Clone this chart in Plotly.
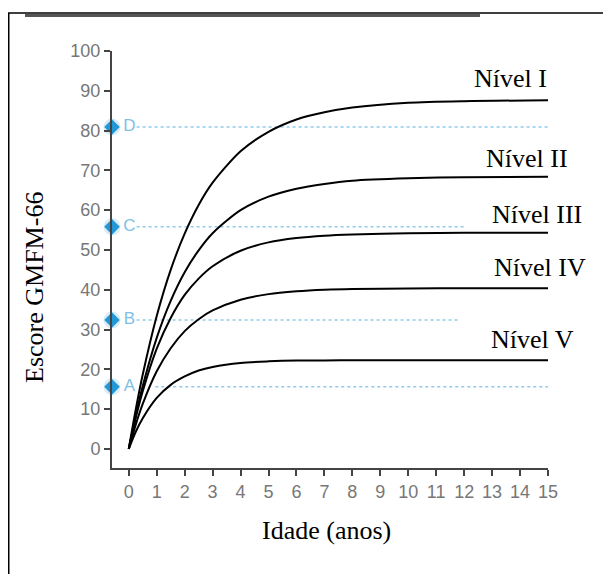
import plotly.graph_objects as go

ages = [0, 0.25, 0.5, 1, 1.5, 2, 2.5, 3, 4, 5, 6, 7, 8, 10, 12, 15]
nivel_I = [0, 9.9, 18.7, 33.4, 45.0, 54.1, 61.3, 66.9, 74.8, 79.7, 82.8, 84.6, 85.8, 87.0, 87.4, 87.6]
nivel_II = [0, 8.4, 15.8, 27.9, 37.2, 44.4, 49.9, 54.2, 60.0, 63.4, 65.4, 66.6, 67.4, 68.0, 68.3, 68.4]
nivel_III = [0, 7.8, 14.5, 25.2, 32.9, 38.7, 42.8, 45.9, 49.8, 51.9, 53.0, 53.6, 53.9, 54.2, 54.3, 54.3]
nivel_IV = [0, 6.1, 11.3, 19.5, 25.3, 29.6, 32.6, 34.8, 37.5, 38.9, 39.6, 40.0, 40.2, 40.3, 40.4, 40.4]
nivel_V = [0, 4.3, 7.7, 12.8, 16.1, 18.2, 19.7, 20.6, 21.6, 22.0, 22.2, 22.2, 22.3, 22.3, 22.3, 22.3]
series_names = ["Nível I", "Nível II", "Nível III", "Nível IV", "Nível V"]
series_values = [nivel_I, nivel_II, nivel_III, nivel_IV, nivel_V]

ref_labels = ["D", "C", "B", "A"]
ref_values = [80.9, 55.8, 32.4, 15.6]
ref_start = [0.28, 0.28, 0.28, 0.95]
ref_end = [15, 12, 11.8, 15]

x_ticks = list(range(0, 16))
y_ticks = list(range(0, 101, 10))

# label positions (layout)
label_pos = [(13.67, 93.2), (14.25, 73.1), (14.62, 58.8), (14.71, 45.7), (14.43, 27.4)]

fig = go.Figure()

blue = "#2398d6"
light_blue = "#8fcbec"

for lab, v, s, e in zip(ref_labels, ref_values, ref_start, ref_end):
    fig.add_trace(go.Scatter(x=[s, e], y=[v, v], mode="lines",
                             line=dict(color=light_blue, width=1.5, dash="dot"),
                             hoverinfo="skip", showlegend=False))

for vals in series_values:
    fig.add_trace(go.Scatter(x=ages, y=vals, mode="lines",
                             line=dict(color="black", width=2, shape="spline", smoothing=0.8),
                             showlegend=False))

# glow + diamonds on the y axis
fig.add_trace(go.Scatter(x=[-0.6] * len(ref_values), y=ref_values, mode="markers",
                         marker=dict(symbol="circle", size=17, color="rgba(143,203,236,0.35)"),
                         cliponaxis=False, hoverinfo="skip", showlegend=False))
fig.add_trace(go.Scatter(x=[-0.6] * len(ref_values), y=ref_values, mode="markers",
                         marker=dict(symbol="diamond", size=12, color=blue),
                         cliponaxis=False, showlegend=False))
fig.add_trace(go.Scatter(x=[0.02] * len(ref_values), y=ref_values, mode="text",
                         text=ref_labels, textposition="middle center",
                         textfont=dict(family="Liberation Sans, Arial", size=17, color="#7fbfe6"),
                         cliponaxis=False, hoverinfo="skip", showlegend=False))

serif = "Liberation Serif, Times New Roman"
annotations = []
for name, (lx, ly) in zip(series_names, label_pos):
    annotations.append(dict(x=lx, y=ly, xref="x", yref="y", text=name, showarrow=False,
                            font=dict(family=serif, size=26, color="black"),
                            xanchor="center", yanchor="middle"))
annotations.append(dict(x=-0.1766, y=0.4317, xref="paper", yref="paper", text="Escore GMFM-66",
                        textangle=-90, showarrow=False,
                        font=dict(family=serif, size=26, color="black"),
                        xanchor="center", yanchor="middle"))
annotations.append(dict(x=0.493, y=-0.1487, xref="paper", yref="paper", text="Idade (anos)",
                        showarrow=False,
                        font=dict(family=serif, size=26, color="black"),
                        xanchor="center", yanchor="middle"))

shapes = [
    dict(type="rect", xref="paper", yref="paper", x0=-0.2368, x1=1.3, y0=-0.35, y1=1.0911,
         line=dict(color="black", width=1.5), fillcolor="rgba(0,0,0,0)", layer="below"),
    dict(type="line", xref="paper", yref="paper", x0=-0.1995, x1=0.844, y0=1.0851, y1=1.0851,
         line=dict(color="#555555", width=3)),
]

tickfont = dict(family="Liberation Sans, Arial", size=18, color="#777")
fig.update_layout(
    width=603, height=566,
    margin=dict(l=104, r=63, t=43, b=106),
    paper_bgcolor="white", plot_bgcolor="white",
    annotations=annotations, shapes=shapes,
    xaxis=dict(range=[-0.6, 15], tickvals=x_ticks, ticktext=[str(t) for t in x_ticks],
               showgrid=False, zeroline=False, showline=True, linecolor="#444", linewidth=2,
               ticks="outside", ticklen=6, tickwidth=1.5, tickcolor="#444",
               tickfont=tickfont),
    yaxis=dict(range=[-4.8, 100], tickvals=y_ticks, ticktext=[str(t) for t in y_ticks],
               showgrid=False, zeroline=False, showline=True, linecolor="#444", linewidth=2,
               ticks="outside", ticklen=6, tickwidth=1.5, tickcolor="#444",
               tickfont=tickfont),
)

fig.write_html("out.html")
